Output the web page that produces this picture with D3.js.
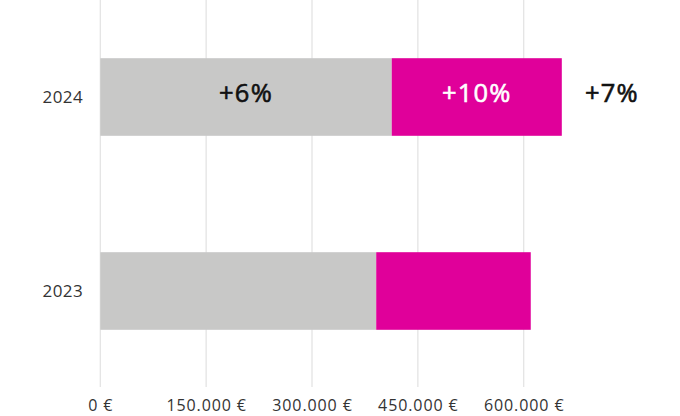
<!DOCTYPE html>
<html>
<head>
<meta charset="utf-8">
<script src="https://cdn.jsdelivr.net/npm/d3@7"></script>
<style>
  body { margin: 0; background: #fff; }
  text { font-family: "Open Sans", Lato, sans-serif; }
</style>
</head>
<body>
<div id="plot"></div>
<script>
const years = ['2024', '2023']
const baseValues = [413000, 391000]
const extraValues = [241000, 219000]
const baseLabels = ['+6%', '']
const extraLabels = ['+10%', '']
const totalLabels = ['+7%', '']
const xTicks = [0, 150000, 300000, 450000, 600000]

const width = 680, height = 416
const svg = d3.select('#plot').append('svg')
  .attr('width', width)
  .attr('height', height)

const x = d3.scaleLinear()
  .domain([0, 600000])
  .range([100.3, 523.7])
const y = d3.scaleBand()
  .domain(years)
  .range([0, 388])
  .paddingInner(0.6)
  .paddingOuter(0.3)

const fmt = d => d3.format(',')(d).replace(/,/g, '.') + ' €'

//grid
svg.append('g')
  .selectAll('line')
  .data(xTicks)
  .join('line')
  .attr('x1', d => x(d)).attr('x2', d => x(d))
  .attr('y1', 0).attr('y2', 387)
  .attr('stroke', '#e4e4e4')
  .attr('stroke-width', 1.3)

//x axis labels
const xaxis = svg.append('g')
  .attr('transform', 'translate(0,411)')
  .call(d3.axisBottom(x).tickValues(xTicks).tickFormat(fmt).tickSize(0))
xaxis.select('.domain').remove()
xaxis.selectAll('text')
  .style('font-family', '"Open Sans", sans-serif')
  .style('font-size', '16px')
  .attr('letter-spacing', 0.9)
  .attr('fill', '#333')
  .attr('y', 0)
  .attr('dy', 0)

//y axis labels
const yaxis = svg.append('g')
  .attr('transform', 'translate(83,0)')
  .call(d3.axisLeft(y).tickSize(0))
yaxis.select('.domain').remove()
yaxis.selectAll('text')
  .style('font-family', '"Open Sans", sans-serif')
  .style('font-size', '17px')
  .attr('letter-spacing', 0.4)
  .attr('fill', '#333')
  .attr('x', 0)
  .attr('dy', 5.5)

const rows = years.map((yr, i) => ({yr, base: baseValues[i], extra: extraValues[i], i}))

const g = svg.append('g')
g.selectAll('rect.base')
  .data(rows)
  .join('rect')
  .attr('class', 'base')
  .attr('x', x(0))
  .attr('y', d => y(d.yr))
  .attr('width', d => x(d.base) - x(0))
  .attr('height', y.bandwidth())
  .attr('fill', '#c8c8c7')
g.selectAll('rect.extra')
  .data(rows)
  .join('rect')
  .attr('class', 'extra')
  .attr('x', d => x(d.base))
  .attr('y', d => y(d.yr))
  .attr('width', d => x(d.base + d.extra) - x(d.base))
  .attr('height', y.bandwidth())
  .attr('fill', '#e0009a')

const labelSize = 25.5
const labelY = d => y(d.yr) + y.bandwidth() / 2 + 4.5
const label = (cls, xf, fill, texts) => g.selectAll('text.' + cls)
  .data(rows)
  .join('text')
  .attr('class', cls)
  .attr('x', xf)
  .attr('y', labelY)
  .attr('text-anchor', 'middle')
  .style('font-family', '"Open Sans", sans-serif')
  .attr('font-size', labelSize)
  .attr('letter-spacing', 1.2)
  .attr('fill', fill)
  .attr('stroke', fill)
  .attr('stroke-width', 0.6)
  .text(d => texts[d.i])

label('bl', d => (x(0) + x(d.base)) / 2, '#111', baseLabels)
label('el', d => (x(d.base) + x(d.base + d.extra)) / 2, '#fff', extraLabels)
label('tl', d => x(d.base + d.extra) + 50, '#111', totalLabels)
</script>
</body>
</html>
